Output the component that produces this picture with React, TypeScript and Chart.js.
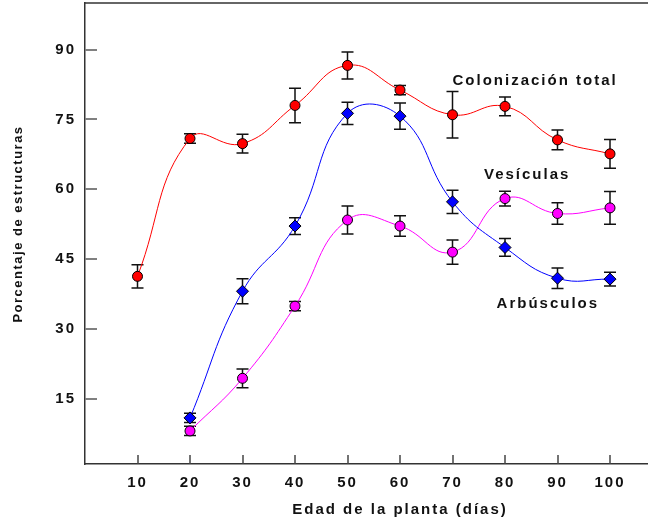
import React, { useEffect, useRef } from "react";
import { Chart, registerables } from "chart.js";

Chart.register(...registerables);

// ---- data ----
const ages = [10, 20, 30, 40, 50, 60, 70, 80, 90, 100];
const colonizacionTotal = [41.3, 70.9, 69.8, 78.0, 86.6, 81.3, 76.0, 77.8, 70.6, 67.6];
const colonizacionErr = [2.5, 1.0, 2.0, 3.7, 2.9, 1.0, 5.0, 2.0, 2.1, 3.1];
const vesiculas = [null, 10.9, 38.1, 52.1, 76.3, 75.7, 57.3, 47.5, 40.9, 40.7];
const vesiculasErr = [null, 1.0, 2.7, 1.8, 2.4, 2.8, 2.5, 1.9, 2.2, 1.5];
const arbusculos = [null, 8.1, 19.4, 34.9, 53.4, 52.1, 46.5, 58.0, 54.8, 56.0];
const arbusculosErr = [null, 1.0, 2.0, 1.0, 3.0, 2.2, 2.6, 1.6, 2.3, 3.5];

const xTickValues = [10, 20, 30, 40, 50, 60, 70, 80, 90, 100];
const yTickValues = [15, 30, 45, 60, 75, 90];

const seriesNames = ["Colonización total", "Vesículas", "Arbúsculos"];
// caption anchors in data coordinates (age, percent)
const captionX = [70, 76, 78.4];
const captionY = [82.3, 62.1, 34.5];

const xTitle = "Edad de la planta (días)";
const yTitle = "Porcentaje de estructuras";

// ---- styles ----
const FONT = "'Liberation Sans', Arial, Helvetica, sans-serif";
const AXIS_COLOR = "#333";

function buildPoints(vals: (number | null)[], errs: (number | null)[]) {
  return ages
    .map((a, i) => ({ x: a, y: vals[i], e: errs[i] }))
    .filter((p) => p.y !== null);
}

const decorPlugin = {
  id: "decor",
  beforeDraw(chart: any) {
    chart.ctx.letterSpacing = "2px";
  },
  beforeDatasetsDraw(chart: any) {
    const { ctx, chartArea, scales } = chart;
    const xs = scales.x;
    const ys = scales.y;
    ctx.save();
    // top frame line
    ctx.strokeStyle = AXIS_COLOR;
    ctx.lineWidth = 1.5;
    ctx.beginPath();
    ctx.moveTo(chartArea.left, chartArea.top);
    ctx.lineTo(chartArea.right, chartArea.top);
    ctx.stroke();
    // y tick marks (inside)
    ctx.strokeStyle = "#808080";
    ctx.lineWidth = 2;
    ys.ticks.forEach((t: any) => {
      const py = Math.round(ys.getPixelForValue(t.value));
      ctx.beginPath();
      ctx.moveTo(chartArea.left, py);
      ctx.lineTo(chartArea.left + 12, py);
      ctx.stroke();
    });
    // x tick marks (inside)
    ctx.strokeStyle = "#444";
    ctx.lineWidth = 1.5;
    xs.ticks.forEach((t: any) => {
      const px = Math.round(xs.getPixelForValue(t.value));
      ctx.beginPath();
      ctx.moveTo(px, chartArea.bottom);
      ctx.lineTo(px, chartArea.bottom - 9);
      ctx.stroke();
    });
    // error bars
    ctx.strokeStyle = "#111";
    ctx.lineWidth = 1.5;
    chart.data.datasets.forEach((ds: any) => {
      ds.data.forEach((p: any) => {
        if (p.e == null) return;
        const px = xs.getPixelForValue(p.x);
        const top = ys.getPixelForValue(p.y + p.e);
        const bot = ys.getPixelForValue(p.y - p.e);
        ctx.beginPath();
        ctx.moveTo(px, top);
        ctx.lineTo(px, bot);
        ctx.moveTo(px - 6, top);
        ctx.lineTo(px + 6, top);
        ctx.moveTo(px - 6, bot);
        ctx.lineTo(px + 6, bot);
        ctx.stroke();
      });
    });
    ctx.restore();
  },
  afterDraw(chart: any) {
    const { ctx, scales } = chart;
    ctx.save();
    // series captions
    ctx.font = `bold 15px ${FONT}`;
    ctx.fillStyle = "#111";
    ctx.letterSpacing = "2px";
    ctx.textAlign = "left";
    ctx.textBaseline = "alphabetic";
    seriesNames.forEach((name, i) => {
      ctx.fillText(
        name,
        scales.x.getPixelForValue(captionX[i]),
        scales.y.getPixelForValue(captionY[i])
      );
    });
    // y axis title
    ctx.font = `bold 13px ${FONT}`;
    ctx.letterSpacing = "1.5px";
    ctx.textAlign = "center";
    ctx.translate(22.3, 224);
    ctx.rotate(-Math.PI / 2);
    ctx.fillText(yTitle, 0, 0);
    ctx.restore();
  },
};

export default function App() {
  const ref = useRef<HTMLCanvasElement>(null);
  useEffect(() => {
    const canvas = ref.current;
    if (!canvas) return;
    const tickFont = { family: FONT, size: 15, weight: "bold" as const };
    const chart = new Chart(canvas, {
      type: "line",
      data: {
        datasets: [
          {
            label: seriesNames[0],
            data: buildPoints(colonizacionTotal, colonizacionErr) as any,
            borderColor: "#ff0000",
            backgroundColor: "#ff0000",
            borderWidth: 1,
            tension: 0.45,
            pointStyle: "circle",
            pointRadius: 5,
            pointBorderColor: "#000",
            pointBorderWidth: 1,
          },
          {
            label: seriesNames[1],
            data: buildPoints(vesiculas, vesiculasErr) as any,
            borderColor: "#0000ff",
            backgroundColor: "#0000ff",
            borderWidth: 1,
            tension: 0.45,
            pointStyle: "rectRot",
            pointRadius: 6,
            pointBorderColor: "#000",
            pointBorderWidth: 1,
          },
          {
            label: seriesNames[2],
            data: buildPoints(arbusculos, arbusculosErr) as any,
            borderColor: "#ff00ff",
            backgroundColor: "#ff00ff",
            borderWidth: 1,
            tension: 0.45,
            pointStyle: "circle",
            pointRadius: 5,
            pointBorderColor: "#000",
            pointBorderWidth: 1,
          },
        ],
      },
      options: {
        responsive: false,
        animation: false,
        devicePixelRatio: 1,
        layout: { autoPadding: false, padding: { top: 3, left: 0, right: 0, bottom: 0 } },
        plugins: {
          legend: { display: false },
          tooltip: { enabled: false },
        },
        scales: {
          x: {
            type: "linear",
            min: 0,
            max: 120,
            afterBuildTicks: (s: any) => {
              s.ticks = xTickValues.map((v) => ({ value: v }));
            },
            afterFit: (s: any) => {
              s.height = 57;
              s.paddingLeft = 0;
              s.paddingRight = 0;
            },
            ticks: {
              font: tickFont,
              color: "#111",
              padding: 10,
              maxRotation: 0,
              autoSkip: false,
            },
            grid: { display: true, drawOnChartArea: false, drawTicks: false },
            border: { display: true, color: AXIS_COLOR, width: 1.5 },
            title: {
              display: true,
              text: xTitle,
              font: tickFont,
              color: "#111",
              padding: { top: 0, bottom: 2 },
            },
          },
          y: {
            type: "linear",
            min: 1,
            max: 100,
            afterBuildTicks: (s: any) => {
              s.ticks = yTickValues.map((v) => ({ value: v }));
            },
            afterFit: (s: any) => {
              s.width = 85;
              s.paddingTop = 0;
              s.paddingBottom = 0;
            },
            ticks: {
              font: tickFont,
              color: "#111",
              padding: 9,
            },
            grid: { display: true, drawOnChartArea: false, drawTicks: false },
            border: { display: true, color: AXIS_COLOR, width: 1.5 },
          },
        },
      },
      plugins: [decorPlugin],
    });
    return () => chart.destroy();
  }, []);

  return (
    <div
      style={{
        position: "absolute",
        left: 0,
        top: 0,
        width: 648,
        height: 521,
        overflow: "hidden",
        background: "#fff",
      }}
    >
      <canvas ref={ref} width={715} height={521} style={{ display: "block" }} />
    </div>
  );
}
